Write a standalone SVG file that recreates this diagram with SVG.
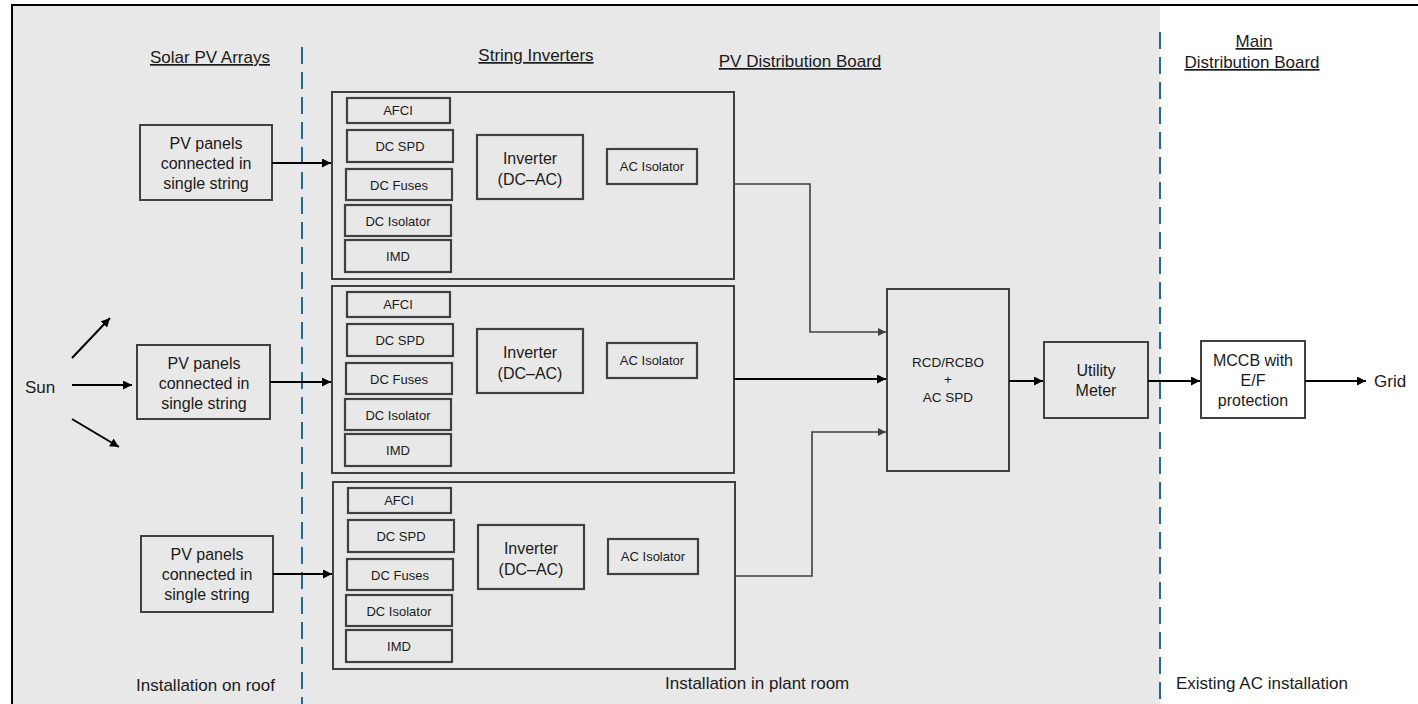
<svg xmlns="http://www.w3.org/2000/svg" width="1418" height="704" viewBox="0 0 1418 704">
<defs>
<marker id="ah" viewBox="0 0 10 10" refX="10" refY="5" markerWidth="9" markerHeight="9" markerUnits="userSpaceOnUse" orient="auto"><path d="M0,0 L10,5 L0,10 z" fill="#000"/></marker>
<marker id="ahg" viewBox="0 0 10 10" refX="10" refY="5" markerWidth="8" markerHeight="8" markerUnits="userSpaceOnUse" orient="auto"><path d="M0,0 L10,5 L0,10 z" fill="#404040"/></marker>
<style>
text{font-family:"Liberation Sans",Arial,sans-serif;fill:#1a1a1a;}
.box{fill:none;stroke:#404040;stroke-width:2;}
.wbox{fill:#fff;stroke:#404040;stroke-width:2;}
.sub{fill:none;stroke:#404040;stroke-width:2.2;}
.t15{font-size:16px;text-anchor:middle;}
.t14{font-size:16px;text-anchor:middle;}
.t12{font-size:13px;text-anchor:middle;}
.t13{font-size:13.5px;text-anchor:middle;}
.hd{font-size:17px;text-anchor:middle;text-decoration:underline;}
.lbl{font-size:17px;}
.dash{stroke:#226a90;stroke-width:2;stroke-dasharray:17 8;fill:none;}
.cb{stroke:#000;stroke-width:2;fill:none;marker-end:url(#ah);}
.cg{stroke:#404040;stroke-width:1.6;fill:none;marker-end:url(#ahg);}
</style>
</defs>
<rect x="0" y="0" width="1418" height="704" fill="#fff"/>
<rect x="12" y="5" width="1148" height="699" fill="#e8e8e8"/>
<rect x="12" y="5" width="1420" height="710" fill="none" stroke="#000" stroke-width="2"/>
<g id="dividers">
<line class="dash" x1="302" y1="47" x2="302" y2="704"/>
<line class="dash" x1="1160" y1="32" x2="1160" y2="704"/>
</g>
<g id="headings">
<text class="hd" x="210" y="63">Solar PV Arrays</text>
<text class="hd" x="536" y="61">String Inverters </text>
<text class="hd" x="800" y="67">PV Distribution Board</text>
<text class="hd" x="1254" y="47">Main </text>
<text class="hd" x="1252" y="68">Distribution Board</text>
<text class="lbl" x="136" y="691">Installation on roof</text>
<text class="lbl" x="665" y="689">Installation in plant room</text>
<text class="lbl" x="1176" y="689">Existing AC installation</text>
</g>
<g id="sun"><text class="lbl" x="25" y="393">Sun</text></g>
<g id="pv1"><rect class="box" x="140" y="125" width="132" height="75"/>
<text class="t15"><tspan x="206" y="149">PV panels</tspan><tspan x="206" y="169">connected in</tspan><tspan x="206" y="189">single string</tspan></text></g>
<g id="pv2"><rect class="box" x="137" y="345" width="133" height="74"/>
<text class="t15"><tspan x="204" y="369">PV panels</tspan><tspan x="204" y="389">connected in</tspan><tspan x="204" y="409">single string</tspan></text></g>
<g id="pv3"><rect class="box" x="141" y="536" width="132" height="76"/>
<text class="t15"><tspan x="207" y="560">PV panels</tspan><tspan x="207" y="580">connected in</tspan><tspan x="207" y="600">single string</tspan></text></g>
<g id="inv1">
<rect class="box" x="332" y="92" width="402" height="187"/>
<rect class="sub" x="347" y="98" width="103" height="25"/><text class="t12" x="398" y="115">AFCI</text>
<rect class="sub" x="347" y="130" width="106" height="32"/><text class="t12" x="400" y="151">DC SPD</text>
<rect class="sub" x="346" y="169" width="106" height="31"/><text class="t12" x="399" y="190">DC Fuses</text>
<rect class="sub" x="345" y="205" width="106" height="31"/><text class="t12" x="398" y="226">DC Isolator</text>
<rect class="sub" x="345" y="240" width="106" height="32"/><text class="t12" x="398" y="261">IMD</text>
<rect class="sub" x="477" y="135" width="106" height="64"/><text class="t14"><tspan x="530" y="164">Inverter</tspan><tspan x="530" y="185">(DC–AC)</tspan></text>
<rect class="sub" x="607" y="149" width="90" height="35"/><text class="t12" x="652" y="171">AC Isolator</text>
</g>
<g id="inv2" transform="translate(0,194)">
<rect class="box" x="332" y="92" width="402" height="187"/>
<rect class="sub" x="347" y="98" width="103" height="25"/><text class="t12" x="398" y="115">AFCI</text>
<rect class="sub" x="347" y="130" width="106" height="32"/><text class="t12" x="400" y="151">DC SPD</text>
<rect class="sub" x="346" y="169" width="106" height="31"/><text class="t12" x="399" y="190">DC Fuses</text>
<rect class="sub" x="345" y="205" width="106" height="31"/><text class="t12" x="398" y="226">DC Isolator</text>
<rect class="sub" x="345" y="240" width="106" height="32"/><text class="t12" x="398" y="261">IMD</text>
<rect class="sub" x="477" y="135" width="106" height="64"/><text class="t14"><tspan x="530" y="164">Inverter</tspan><tspan x="530" y="185">(DC–AC)</tspan></text>
<rect class="sub" x="607" y="149" width="90" height="35"/><text class="t12" x="652" y="171">AC Isolator</text>
</g>
<g id="inv3" transform="translate(1,390)">
<rect class="box" x="332" y="92" width="402" height="187"/>
<rect class="sub" x="347" y="98" width="103" height="25"/><text class="t12" x="398" y="115">AFCI</text>
<rect class="sub" x="347" y="130" width="106" height="32"/><text class="t12" x="400" y="151">DC SPD</text>
<rect class="sub" x="346" y="169" width="106" height="31"/><text class="t12" x="399" y="190">DC Fuses</text>
<rect class="sub" x="345" y="205" width="106" height="31"/><text class="t12" x="398" y="226">DC Isolator</text>
<rect class="sub" x="345" y="240" width="106" height="32"/><text class="t12" x="398" y="261">IMD</text>
<rect class="sub" x="477" y="135" width="106" height="64"/><text class="t14"><tspan x="530" y="164">Inverter</tspan><tspan x="530" y="185">(DC–AC)</tspan></text>
<rect class="sub" x="607" y="149" width="90" height="35"/><text class="t12" x="652" y="171">AC Isolator</text>
</g>
<g id="rcd"><rect class="box" x="887" y="289" width="122" height="182"/>
<text class="t13"><tspan x="948" y="367">RCD/RCBO</tspan><tspan x="948" y="384">+</tspan><tspan x="948" y="402">AC SPD</tspan></text></g>
<g id="meter"><rect class="box" x="1044" y="342" width="104" height="76"/>
<text class="t14"><tspan x="1096" y="376">Utility</tspan><tspan x="1096" y="396">Meter</tspan></text></g>
<g id="mccb"><rect class="wbox" x="1201" y="341" width="104" height="77"/>
<text class="t14"><tspan x="1253" y="366">MCCB with</tspan><tspan x="1253" y="386">E/F</tspan><tspan x="1253" y="406">protection</tspan></text></g>
<g id="grid"><text class="lbl" x="1374" y="387">Grid</text></g>
<g id="connectors">
<line class="cb" x1="72" y1="358" x2="110" y2="318"/>
<line class="cb" x1="72" y1="385" x2="132" y2="385"/>
<line class="cb" x1="72" y1="419" x2="119" y2="447"/>
<line class="cb" x1="272" y1="163" x2="331" y2="163"/>
<line class="cb" x1="270" y1="382" x2="331" y2="382"/>
<line class="cb" x1="273" y1="574" x2="332" y2="574"/>
<polyline class="cg" points="734,184 810,184 810,332 886,332"/>
<line class="cb" x1="734" y1="379" x2="886" y2="379"/>
<polyline class="cg" points="735,576 812,576 812,432 886,432"/>
<line class="cb" x1="1009" y1="381" x2="1043" y2="381"/>
<line class="cb" x1="1148" y1="381" x2="1200" y2="381"/>
<line class="cb" x1="1305" y1="381" x2="1366" y2="381"/>
</g>
</svg>
